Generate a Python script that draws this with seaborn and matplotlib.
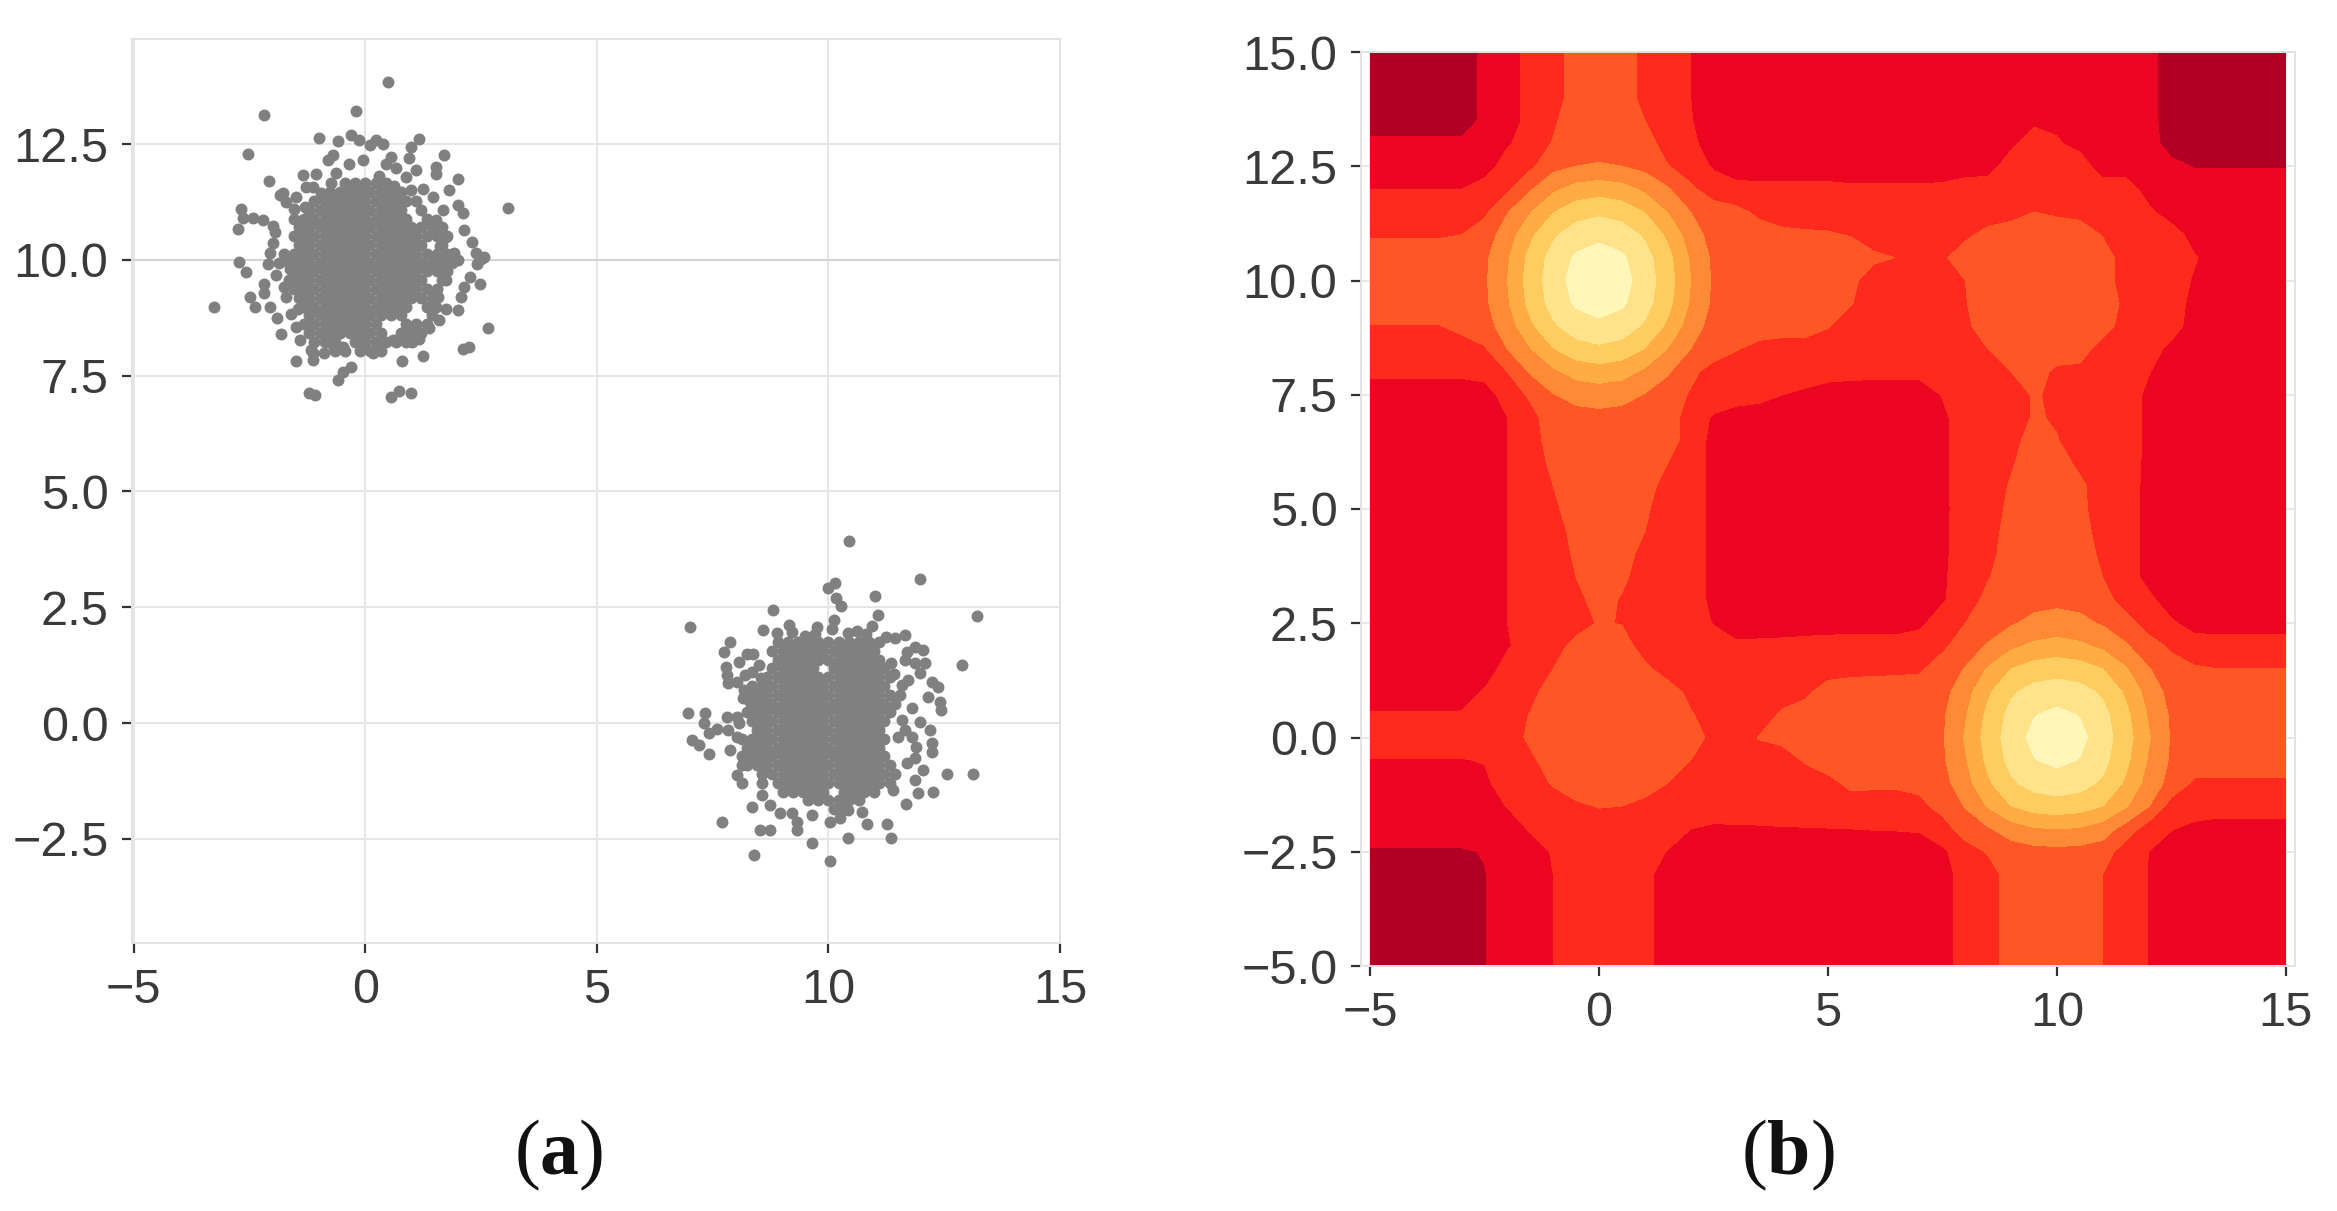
import numpy as np
import pandas as pd
import matplotlib
matplotlib.use('Agg')
import matplotlib.pyplot as plt
import seaborn as sns

# --- panel (a): points, scan line by scan line in the dense parts ---
core_a = [
    (11.65, [-.44, -.22, 0, .22, .44]),
    (11.46, [-.77, -.55, -.33, -.11, .11, .33, .55, .77]),
    (11.27, [-1.1, -.88, -.66, -.44, -.22, 0, .22, .44, .66, .88, 1.1]),
    (11.08, [-1.21, -.99, -.77, -.55, -.33, -.11, .11, .33, .55, .77, 1.21]),
    (10.89, [-1.54, -1.32, -1.1, -.88, -.66, -.44, -.22, 0, .22, .44, .66, .88, 1.32]),
    (10.7, [-1.43, -1.21, -.99, -.77, -.55, -.33, -.11, .11, .33, .55, .77, .99, 1.21, 1.43, 1.65]),
    (10.51, [-1.54, -1.32, -1.1, -.88, -.66, -.44, -.22, 0, .22, .44, .66, .88, 1.1, 1.32, 1.54, 1.76]),
    (10.32, [-1.43, -1.21, -.99, -.77, -.55, -.33, -.11, .11, .33, .55, .77, .99, 1.21, 1.65]),
    (10.13, [-1.76, -1.54, -1.32, -1.1, -.88, -.66, -.44, -.22, 0, .22, .44, .66, .88, 1.1, 1.32, 1.54, 1.76]),
    (9.94, [-1.87, -1.65, -1.43, -1.21, -.99, -.77, -.55, -.33, -.11, .11, .33, .55, .77, .99, 1.21, 1.43, 1.65, 1.87]),
    (9.75, [-1.54, -1.32, -1.1, -.88, -.66, -.44, -.22, 0, .22, .44, .66, .88, 1.1, 1.32, 1.54, 1.76]),
    (9.56, [-1.65, -1.43, -1.21, -.99, -.77, -.55, -.33, -.11, .11, .33, .55, .77, .99, 1.21, 1.65]),
    (9.37, [-1.54, -1.32, -1.1, -.88, -.66, -.44, -.22, 0, .22, .44, .66, .88, 1.1, 1.32, 1.54]),
    (9.18, [-1.43, -1.21, -.99, -.77, -.55, -.33, -.11, .11, .33, .55, .77, .99, 1.21, 1.43]),
    (8.99, [-1.32, -1.1, -.88, -.66, -.44, -.22, 0, .22, .44, .66, .88, 1.32]),
    (8.8, [-1.21, -.99, -.77, -.55, -.33, -.11, .11, .33, .55, .77, 1.43]),
    (8.61, [-1.32, -1.1, -.88, -.66, -.44, -.22, 0, .22, .88, 1.1, 1.32]),
    (8.42, [-1.21, -.99, -.77, -.55, -.33, -.11, .11, .33, .77, .99, 1.21]),
    (8.23, [-1.1, -.88, -.66, -.22, 0, .22, .44, .66, .88, 1.0]),
    (8.04, [-.66, -.44, -.11, .11, .33]),
]
edge_a = [
    (.48, 13.85), (-.2, 13.22), (-2.18, 13.13), (-1.0, 12.64), (-.6, 12.57), (-.31, 12.7),
    (-.13, 12.59), (.09, 12.48), (.23, 12.59), (.37, 12.5), (1.16, 12.6), (.98, 12.44),
    (.95, 12.21), (-2.54, 12.29), (1.7, 12.26), (-.81, 12.16), (-.7, 12.26), (-.35, 12.07),
    (-.06, 12.16), (1.52, 12.01), (1.52, 11.85), (-2.09, 11.7), (2.01, 11.74), (3.07, 11.13),
    (-2.68, 11.11), (-2.75, 10.66), (-2.64, 10.9), (-2.43, 10.9), (-2.21, 10.86), (-2.0, 10.73),
    (2.13, 10.65), (2.3, 10.39), (2.49, 10.03), (2.39, 10.14), (2.57, 10.07), (2.42, 9.92),
    (-2.72, 9.96), (-2.57, 9.73), (-3.28, 8.99), (2.26, 9.64), (2.48, 9.48), (2.13, 9.42),
    (2.06, 9.2), (1.99, 8.92), (1.74, 8.95), (2.64, 8.52), (2.24, 8.12), (2.1, 8.07),
    (-2.5, 9.2), (-2.39, 8.99), (-2.18, 9.49), (-2.18, 9.28), (-2.05, 8.99), (-1.9, 8.74),
    (-1.82, 8.41), (-1.49, 7.82), (-1.13, 7.84), (-1.17, 8.05), (-.6, 7.4), (-.49, 7.58),
    (-.31, 7.69), (-1.21, 7.12), (-1.08, 7.08), (.55, 7.04), (.73, 7.17), (.98, 7.12),
    (.79, 7.82), (1.24, 7.93), (-1.78, 11.44), (-1.71, 11.26), (-1.49, 11.36), (-1.35, 11.83),
    (-1.06, 11.85), (-.63, 11.87), (-.74, 11.65), (-1.28, 11.58), (-1.13, 11.58), (-1.85, 11.4),
    (.55, 12.23), (.45, 12.08), (.66, 11.98), (1.09, 11.94), (.88, 11.8), (1.24, 11.54),
    (1.45, 11.36), (1.81, 11.51), (1.99, 11.18), (2.1, 11.02), (1.67, 11.08), (1.52, 10.86),
    (1.74, 10.5), (1.92, 10.14), (1.99, 9.99), (1.74, 9.56), (1.56, 9.2), (1.52, 8.99),
    (1.6, 8.7), (1.38, 8.52), (1.16, 8.3), (.59, 8.27), (.8, 8.34), (.16, 7.98),
    (-.7, 8.16), (-.49, 8.12), (-1.13, 7.98), (-1.42, 8.27), (-1.49, 8.56), (-2.07, 10.14),
    (-1.99, 10.36), (-2.1, 9.92), (-1.93, 9.67), (-1.75, 9.42), (-1.71, 9.2), (-1.6, 8.84),
    (-1.95, 10.6), (-1.7, 10.05), (-1.62, 9.8), (-1.55, 11.1), (-1.3, 11.15), (-.95, 11.45),
    (.98, 11.5), (.3, 11.82), (.62, 11.6), (1.62, 10.3), (-1.45, 8.95), (-.9, 8.0),
]
core_b = [
    (1.75, [8.9, 9.12, 9.34, 9.56, 9.78, 10, 10.22, 10.44, 10.66, 10.88, 11.1]),
    (1.56, [8.79, 9.01, 9.23, 9.45, 9.67, 9.89, 10.11, 10.33, 10.55, 10.77, 10.99]),
    (1.37, [8.9, 9.12, 9.34, 9.56, 9.78, 10, 10.22, 10.44, 10.66, 10.88, 11.1]),
    (1.18, [8.79, 9.01, 9.23, 9.45, 9.67, 10.11, 10.33, 10.55, 10.77, 10.99, 11.21]),
    (.99, [8.68, 8.9, 9.12, 9.34, 9.56, 9.78, 10, 10.22, 10.44, 10.66, 10.88, 11.1, 11.32]),
    (.8, [8.35, 8.57, 8.79, 9.01, 9.23, 9.45, 9.67, 9.89, 10.11, 10.33, 10.55, 10.77, 10.99, 11.21]),
    (.61, [8.24, 8.46, 8.68, 8.9, 9.12, 9.34, 9.56, 9.78, 10, 10.22, 10.44, 10.66, 10.88, 11.1, 11.32, 11.54]),
    (.42, [8.35, 8.57, 8.79, 9.01, 9.23, 9.45, 9.67, 9.89, 10.11, 10.33, 10.55, 10.77, 10.99, 11.21, 11.43]),
    (.23, [8.24, 8.46, 8.68, 8.9, 9.12, 9.34, 9.56, 9.78, 10, 10.22, 10.44, 10.66, 10.88, 11.1, 11.32]),
    (.04, [8.35, 8.57, 8.79, 9.01, 9.23, 9.45, 9.67, 9.89, 10.11, 10.33, 10.55, 10.77, 10.99, 11.21]),
    (-.15, [8.46, 8.68, 8.9, 9.12, 9.34, 9.56, 9.78, 10, 10.22, 10.44, 10.66, 10.88, 11.1]),
    (-.34, [8.13, 8.35, 8.57, 8.79, 9.01, 9.23, 9.45, 9.67, 9.89, 10.11, 10.33, 10.55, 10.77, 10.99, 11.21]),
    (-.53, [8.24, 8.46, 8.68, 8.9, 9.12, 9.34, 9.56, 9.78, 10, 10.22, 10.44, 10.66, 10.88, 11.1]),
    (-.72, [8.13, 8.35, 8.57, 8.79, 9.01, 9.23, 9.45, 9.67, 9.89, 10.11, 10.33, 10.55, 10.77, 10.99, 11.21]),
    (-.91, [8.24, 8.46, 8.68, 8.9, 9.12, 9.34, 9.56, 9.78, 10, 10.22, 10.44, 10.66, 10.88, 11.1, 11.32]),
    (-1.1, [8.57, 8.79, 9.01, 9.23, 9.45, 9.67, 9.89, 10.11, 10.33, 10.55, 10.77, 10.99, 11.21, 11.43]),
    (-1.29, [8.9, 9.12, 9.34, 9.56, 9.78, 10, 10.22, 10.44, 10.66, 10.88, 11.1, 11.32]),
    (-1.48, [9.01, 9.23, 9.45, 9.67, 9.89, 10.33, 10.55, 10.77, 10.99]),
    (-1.67, [9.56, 9.78, 10, 10.22, 10.44, 10.66]),
    (-1.86, [10.11, 10.33]),
]
edge_b = [
    (10.45, 3.93), (11.97, 3.11), (10.14, 3.02), (9.98, 2.91), (10.16, 2.69), (10.27, 2.53),
    (11.0, 2.74), (13.2, 2.32), (8.81, 2.44), (7.02, 2.07), (11.06, 2.33), (10.95, 2.09),
    (10.11, 2.22), (10.07, 2.04), (9.75, 2.07), (8.58, 2.01), (9.14, 2.12), (9.21, 1.97),
    (8.89, 1.94), (7.88, 1.76), (7.74, 1.53), (8.24, 1.5), (8.38, 1.5), (8.06, 1.31),
    (7.79, 1.22), (7.81, 1.04), (8.35, 1.11), (8.2, 1.04), (7.84, .86), (8.02, .89),
    (8.17, .71), (11.65, 1.9), (11.44, 1.83), (11.69, 1.54), (11.87, 1.65), (12.05, 1.58),
    (11.65, 1.36), (11.87, 1.29), (12.08, 1.29), (11.97, 1.07), (12.23, .89), (12.37, .78),
    (12.89, 1.25), (12.14, .57), (12.41, .46), (12.44, .28), (11.8, .32), (11.58, .82),
    (11.72, .93), (11.97, .03), (12.19, -.15), (12.23, -.44), (12.23, -.62), (11.9, -.51),
    (11.58, .06), (11.65, -.15), (11.51, -.3), (11.8, -.3), (11.69, -.87), (11.87, -.76),
    (12.05, -1.02), (11.87, -1.23), (11.94, -1.52), (12.26, -1.48), (12.56, -1.11), (13.12, -1.11),
    (11.67, -1.74), (11.4, -1.45), (11.36, -2.48), (11.26, -2.19), (10.83, -2.17), (10.72, -1.92),
    (10.42, -2.49), (10.04, -2.13), (10.25, -2.06), (10.43, -1.88), (10.04, -2.98), (9.64, -2.58),
    (9.33, -2.31), (9.33, -2.13), (9.64, -1.99), (9.21, -1.94), (8.96, -1.95), (8.74, -2.31),
    (8.53, -2.31), (8.4, -2.85), (7.7, -2.13), (8.35, -1.81), (8.74, -1.77), (8.56, -1.55),
    (8.56, -1.3), (8.13, -1.3), (8.02, -1.12), (8.13, -.91), (7.87, -.58), (7.43, -.66),
    (7.05, -.37), (7.2, -.48), (6.96, .21), (7.34, .21), (7.31, -.01), (7.41, -.22),
    (7.59, -.12), (7.81, .14), (8.02, .14), (7.84, -.15), (8.06, -.01), (8.02, -.3),
    (9.5, 1.88), (9.72, 1.92), (10.42, 1.95), (10.62, 1.98), (10.82, 1.92), (11.25, 1.85),
    (8.5, 1.25), (8.55, .98), (8.3, .45), (8.15, .55), (11.35, 1.3), (11.42, 1.05),
]

# --- panel (b): band number read at every half unit, top row is y=15, bottom row y=-5 ---
grid_x = np.arange(-5, 15.5, .5)
grid_y = np.arange(-5, 15.5, .5)
field_rows = [
    [0]*5+[.74,1,1.9,2,3,3,3,2.2,2,1.5]+[1]*19+[.83]+[0]*6,
    [0]*5+[.74,1,1.9,2,3,3,3,2.2,2,1.5]+[1]*19+[.83]+[0]*6,
    [0]*5+[.74,1,1.9,2,3,3,3,2.2,2,1.5]+[1]*19+[.83]+[0]*6,
    [0]*5+[.74,1,1.85,2.37,3,3,3,2.5,2,1.55]+[1]*14+[1.3,1.3]+[1]*3+[.83]+[0]*6,
    [.7]*5+[.9,1.38,2,2.56,3,3,3,3,2,1.75]+[1]*13+[1.3,2,1.6,1.2,1,1,.9,.1]+[0]*5,
    [1]*6+[2,2.3,3.2,3.5,3.6,3.5,3.2,2.55,2,1.39]+[1]*11+[1.1,2,2,2,2,1,1,1,.75]+[.45]*5,
    [1.5]*5+[2,2.3,3.4,4.3,4.85,5.05,4.85,4.3,3.6,2.7,2,1.8]+[1.75]*4+[1.65]*4+[1.7]+[2]*8+[1.1]+[1]*6,
    [2]*5+[2.3,3.45,4.45,5.45,6.1,6.3,6.1,5.45,4.45,3.5,3,2.75,2.3]+[2]*11+[2.5,2.3,2.2,2,2,1.7]+[1]*6,
    [2.4]*4+[2.5,3,4,5.3,6.35,7,7.25,7,6.35,5.3,4,3.1,3,2.9,2.75,2.65,2.6,2.45,2,2,2,2.05,2.3,2.8,3.2,3.3,3.2,3,2.45,2,2,2,1.1]+[1]*4,
    [3]*5+[3.3,4.38,5.8,6.87,7.65,7.95,7.65,6.87,5.8,4.38,3.3]+[3]*6+[2.7,2.48,2,2.35]+[3]*6+[2.9,2.1,2,2,1.6]+[1]*4,
    [3]*5+[3.35,4.5,5.95,7,7.9,8.6,7.9,7,5.95,4.5,3.35]+[3]*5+[2.75]+[2]*4+[2.5]+[3]*6+[2,2,2,1.4]+[1]*4,
    [3]*5+[3.3,4.38,5.8,6.87,7.65,7.95,7.65,6.87,5.8,4.38,3.3]+[3]*5+[2.55]+[2]*4+[2.45]+[3]*6+[2.3,2,2,1.2]+[1]*4,
    [2.45]*4+[2.8,3.1,4,5.3,6.35,7,7.25,7,6.35,5.3,4,3.1]+[3]*4+[2.55]+[2]*5+[2.3]+[3]*6+[2,2,2,1]+[1]*4,
    [2]*5+[2.4,3.5,4.45,5.45,6.1,6.3,6.1,5.45,4.45,3.5,3,2.55,2.2]+[2]*9+[2.5]+[3]*4+[2,2,2,1.2]+[1]*5,
    [1.7]*5+[1.9,2.5,3.6,4.3,4.85,5.05,4.85,4.3,3.6,2.75,2.1]+[2]*4+[1.9,1.8,1.75,1.75,1.75,2,2,2,2.5,2.9,2.3,2.2,2,2,1.55]+[1]*6,
    [1]*6+[2,2.65,3.45,3.85,3.95,3.85,3.45,3,2.4,2,2,1.8,1.5,1.3]+[1]*5+[1.55,2,2,2,2.6,2.3,2,2,2,1.3]+[1]*6,
    [1]*6+[1.5,2.2,3,3.1,3.2,3.1,3,3,2,1.4]+[1]*9+[1.3,2,2,2,2.6,2.4,2,2,2,1.3]+[1]*6,
    [1]*6+[1.5,2,3,3,3,3,3,3,2,1.25]+[1]*9+[1.3,2,2,2.1,3,2.55,2,2,2,1.3]+[1]*6,
    [1]*6+[1.5,2,2.71,3,3,3,3,2.5,2,1.25]+[1]*9+[1.3,2,2,2.4,3,2.9,2.3,2,2,1.25]+[1]*6,
    [1]*6+[1.5,2,2.5,3,3,3,3,2,2,1.25]+[1]*9+[1.3,2,2,2.6,3,3,2.7,2,2,1.2]+[1]*6,
    [1]*6+[1.5,2,2.3,3,3,3,2.65,2,2,1.25]+[1]*9+[1.25,2,2,2.75,3,3,2.75,2,2,1.2]+[1]*6,
    [1]*6+[1.5,2,2,2.85,3,3,2.5,2,2,1.25]+[1]*9+[1.3,2,2,3,3,3,3,2,2,1.2]+[1]*6,
    [1]*6+[1.5,2,2,2.65,3,3,2.1,2,2,1.25]+[1]*9+[1.3,2,2.2,3,3,3,3,2.3,2,1.2]+[1]*6,
    [1]*6+[1.5,2,2,2.5,3,2.7,2,2,2,1.25]+[1]*9+[1.35,2,2.45,3,3,3,3,2.5,2,1.2]+[1]*6,
    [1]*6+[1.5,2,2,2.2,2.9,2.4,2,2,2,1.25]+[1]*9+[1.4,2,2.8,3,3.2,3.3,3.2,3,2,1.75]+[1]*6,
    [1]*6+[1.5,2,2,2,2.6,2.45,2,2,2,1.45]+[1]*8+[1.3,2,2.5,3,3.4,3.75,3.85,3.75,3.4,3,2,1.65,1.1]+[1]*4,
    [1]*6+[1.4,2,2,2.9,3,3,2,2,2,2,1.68,1.73,1.78,1.87,1.96,2,2,2,2,2.3,3.05,3.6,4.3,4.7,4.9,4.7,4.3,3.6,3,2.3]+[2]*5,
    [1]*6+[1.9,2,2.5,3,3,3,2.75,2,2,2,2,2,2,2,2,2.2,2.25,2.3,2.35,3,3.55,4.6,5.5,5.95,6.1,5.95,5.5,4.6,3.55,3,2.6]+[2.5]*4,
    [1]*5+[1.6,2,2.2,3,3,3,3,3,3,2.2,2,2,2,2.05,2.25,3,3,3,3,3,3.15,4.1,5.35,6.35,6.85,7,6.85,6.35,5.35,4.1,3.15]+[3]*5,
    [1.57]*4+[1.6,2,2,2.55,3,3,3,3,3,3,2.6,2,2,2,2.65,3,3,3,3,3,3,3.35,4.4,5.75,6.8,7.45,7.75,7.45,6.8,5.75,4.4,3.35]+[3]*5,
    [2]*7+[2.7]+[3]*7+[2.2,2,2.55,2.8]+[3]*6+[3.4,4.6,5.95,6.95,7.8,8.6,7.8,6.95,5.95,4.6,3.4]+[3]*5,
    [1.45]*5+[1.55,2,2.3]+[3]*6+[2.5,2,2,2,2,2.6]+[3]*5+[3.35,4.4,5.75,6.8,7.45,7.75,7.45,6.8,5.75,4.4,3.35]+[3]*5,
    [1]*5+[1.3,2,2,2.6,3,3,3,3,2.5,2,2,2,2,2,2,2.2,2.75,2.7,2.7,2.8,3.15,4.1,5.35,6.35,6.85,7,6.85,6.35,5.35,4.1,3.15,2.35]+[2.32]*4,
    [1]*6+[1.55,2,2,2.35,2.55,2.5,2.2]+[2]*11+[2.2,2.9,3.55,4.6,5.5,5.95,6.1,5.95,5.5,4.6,3.55,2.1]+[2]*5,
    [1]*7+[1.6]+[2]*6+[1.5,1.35,1.38,1.4,1.44,1.46,1.48,1.5,1.53,1.55,1.6,2,3.05,3.4,4,4.4,4.5,4.4,4,3.1,2,1.55,1.25]+[1.07]*4,
    [.4]*5+[.55,1,1,1.6,2,2,2,2,1.45]+[1]*11+[1.35,2,2.6,3,3.15,3.2,3.15,3,2,1.5]+[1]*6,
    [0]*5+[.46,1,1,1.5,2,2,2,1.8,1,1]+[1]*11+[2,2,3,3,3,3,2.5,2,1.47]+[1]*6,
    [0]*5+[.46,1,1,1.5,2,2,2,1.8,1,1]+[1]*11+[2,2,3,3,3,3,2.5,2,1.47]+[1]*6,
    [0]*5+[.46,1,1,1.5,2,2,2,1.8,1,1]+[1]*11+[2,2,3,3,3,3,2.5,2,1.47]+[1]*6,
    [0]*5+[.46,1,1,1.5,2,2,2,1.8,1,1]+[1]*11+[2,2,3,3,3,3,2.5,2,1.47]+[1]*6,
    [0]*5+[.46,1,1,1.5,2,2,2,1.8,1,1]+[1]*11+[2,2,3,3,3,3,2.5,2,1.47]+[1]*6,
]
band_levels = [-1, .5, 1.5, 2.5, 3.5, 4.5, 5.5, 6.5, 7.5, 9.5]
band_colors = ['#B20024', '#EC0621', '#FF2A1E', '#FF5626', '#FF8A35',
               '#FFAC42', '#FFCC60', '#FFE38A', '#FFF6B8']

x_ticks = [-5, 0, 5, 10, 15]
y_ticks_a = [-2.5, 0, 2.5, 5, 7.5, 10, 12.5]
y_ticks_b = [-5, -2.5, 0, 2.5, 5, 7.5, 10, 12.5, 15]


def points_frame():
    pts = list(edge_a) + list(edge_b)
    for y, xs in core_a + core_b:
        pts += [(x, y) for x in xs]
    return pd.DataFrame(pts, columns=['x', 'y'])


def style_axes(ax, y_ticks):
    ax.set_xticks(x_ticks)
    ax.set_yticks(y_ticks)
    ax.set_xticklabels([str(t).replace('-', '\u2212') for t in x_ticks])
    ax.set_yticklabels(['%.1f' % t if t >= 0 else '\u2212%.1f' % -t for t in y_ticks])
    ax.set_xlabel('')
    ax.set_ylabel('')
    ax.set_axisbelow(True)
    ax.grid(True, color='#e6e6e6', linewidth=1.4)
    for sp in ax.spines.values():
        sp.set_color('#e2e2e2')
        sp.set_linewidth(1.4)
    ax.tick_params(axis='both', which='major', length=7, width=1.6, color='#333333',
                   labelcolor='#3a3a3a', labelsize=35, left=True, bottom=True)
    ax.tick_params(axis='y', pad=10)
    ax.tick_params(axis='x', pad=11)


sns.set_theme(style='whitegrid')
plt.rcParams['font.family'] = ['Liberation Sans', 'DejaVu Sans']
plt.rcParams['mathtext.fontset'] = 'custom'
plt.rcParams['mathtext.bf'] = 'Liberation Serif:bold'

W, H = 2337, 1211
fig = plt.figure(figsize=(W / 100, H / 100), dpi=100, facecolor='white')

# left panel
ax_a = fig.add_axes([132 / W, 1 - 943 / H, 928 / W, 904 / H])
sns.scatterplot(data=points_frame(), x='x', y='y', color='#808080', s=74,
                linewidth=0, ax=ax_a, zorder=3)
ax_a.axhline(10, color='#d4d4d4', linewidth=1.6, zorder=1)
ax_a.set_xlim(-5.04, 15)
ax_a.set_ylim(-4.75, 14.77)
style_axes(ax_a, y_ticks_a)

# right panel, the frame sits a little outside the filled square
ax_b = fig.add_axes([1361 / W, 1 - 966 / H, 934 / W, 914 / H])
ax_b.contourf(grid_x, grid_y, np.flipud(np.array(field_rows, dtype=float)),
              levels=band_levels, colors=band_colors)
ax_b.set_xlim(-5.2, 15.2)
ax_b.set_ylim(-5, 15)
style_axes(ax_b, y_ticks_b)

fig.text(559 / W, 1 - 1155 / H, r'($\mathbf{a}$)', family='Liberation Serif', fontsize=56,
         ha='center', va='center', color='#111111')
fig.text(1788 / W, 1 - 1155 / H, r'($\mathbf{b}$)', family='Liberation Serif', fontsize=56,
         ha='center', va='center', color='#111111')

fig.savefig('out.png', dpi=100, facecolor='white')
